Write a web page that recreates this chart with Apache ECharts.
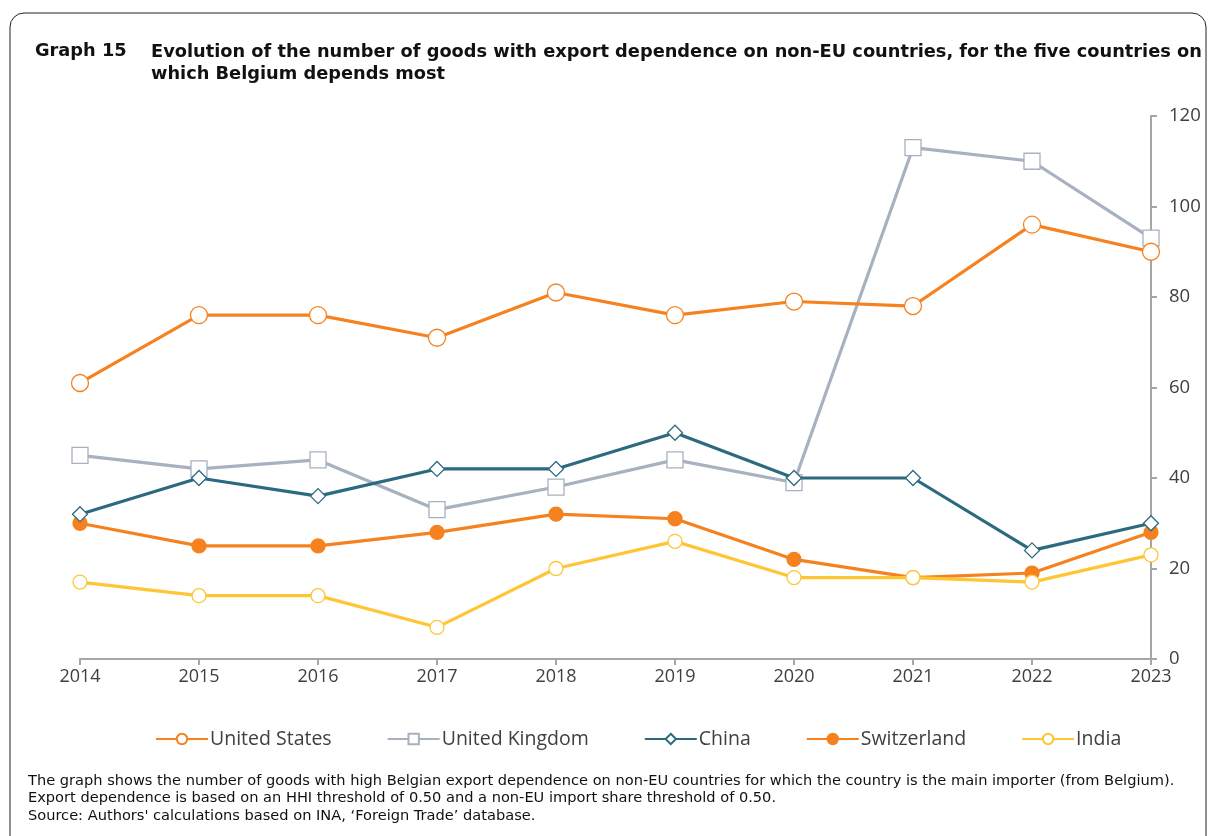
<!DOCTYPE html>
<html>
<head>
<meta charset="utf-8">
<script src="https://cdn.jsdelivr.net/npm/echarts@6/dist/echarts.min.js"></script>
<style>
  html, body { margin: 0; padding: 0; background: #ffffff; }
  #chart { width: 1211px; height: 836px; }
</style>
</head>
<body>
<div id="chart"></div>
<script>
// Years on the horizontal axis
const years = ['2014', '2015', '2016', '2017', '2018', '2019', '2020', '2021', '2022', '2023'];

// Number of goods with export dependence, per partner country
const unitedStates   = [61, 76, 76, 71, 81, 76, 79, 78, 96, 90];
const unitedKingdom  = [45, 42, 44, 33, 38, 44, 39, 113, 110, 93];
const china          = [32, 40, 36, 42, 42, 50, 40, 40, 24, 30];
const switzerland    = [30, 25, 25, 28, 32, 31, 22, 18, 19, 28];
const india          = [17, 14, 14, 7, 20, 26, 18, 18, 17, 23];

// Value axis ticks
const yTicks = [0, 20, 40, 60, 80, 100, 120];

const titleLines = [
  'Evolution of the number of goods with export dependence on non-EU countries, for the five countries on',
  'which Belgium depends most'
];
const noteLines = [
  'The graph shows the number of goods with high Belgian export dependence on non-EU countries for which the country is the main importer (from Belgium).',
  'Export dependence is based on an HHI threshold of 0.50 and a non-EU import share threshold of 0.50.',
  'Source: Authors\' calculations based on INA, \u2018Foreign Trade\u2019 database.'
];

const ORANGE = '#f5821f';
const GREY = '#a7b1bf';
const TEAL = '#2c6a7f';
const YELLOW = '#fec634';
const TEXT = '#404040';
const AXIS = '#a6a6a6';

function lineSeries(name, data, color, symbol, size, filled, z) {
  return {
    name: name,
    type: 'line',
    data: data,
    symbol: symbol,
    symbolSize: size,
    showAllSymbol: true,
    z: z,
    lineStyle: { color: color, width: 3.2 },
    itemStyle: { color: filled ? color : '#ffffff', borderColor: color, borderWidth: 1.3 },
    emphasis: { disabled: true },
    animation: false
  };
}

const chart = echarts.init(document.getElementById('chart'), null, { renderer: 'canvas' });

chart.setOption({
  backgroundColor: '#ffffff',
  animation: false,
  grid: { left: 80, right: 60, top: 116, bottom: 177, containLabel: false },
  xAxis: {
    type: 'category',
    data: years,
    boundaryGap: false,
    axisLine: { lineStyle: { color: AXIS, width: 2 } },
    axisTick: { show: true, alignWithLabel: true, length: 6, lineStyle: { color: AXIS, width: 2 } },
    axisLabel: { color: TEXT, fontSize: 18, fontFamily: 'Open Sans', margin: 9, interval: 0 },
    splitLine: { show: false }
  },
  yAxis: {
    type: 'value',
    position: 'right',
    min: yTicks[0],
    max: yTicks[yTicks.length - 1],
    interval: 20,
    axisLine: { show: true, lineStyle: { color: AXIS, width: 2 } },
    axisTick: { show: true, inside: false, length: 6, lineStyle: { color: AXIS, width: 2 } },
    axisLabel: { color: TEXT, fontSize: 18.5, fontFamily: 'Open Sans', margin: 18 },
    splitLine: { show: false }
  },
  legend: {
    bottom: 82,
    left: 150,
    itemGap: 55,
    itemWidth: 52,
    itemHeight: 13,
    textStyle: { color: TEXT, fontSize: 19.5, fontFamily: 'Open Sans', padding: [0, 0, 0, -3] },
    data: ['United States', 'United Kingdom', 'China', 'Switzerland', 'India']
  },
  series: [
    lineSeries('United States', unitedStates, ORANGE, 'circle', 17, false, 6),
    lineSeries('United Kingdom', unitedKingdom, GREY, 'rect', 16, false, 2),
    lineSeries('China', china, TEAL, 'diamond', 15, false, 4),
    lineSeries('Switzerland', switzerland, ORANGE, 'circle', 14, true, 3),
    lineSeries('India', india, YELLOW, 'circle', 14, false, 5)
  ],
  graphic: [
    {
      type: 'rect',
      silent: true,
      z: -1,
      shape: { x: 10, y: 13, width: 1196, height: 850, r: 14 },
      style: { fill: 'none', stroke: '#222222', lineWidth: 1 }
    },
    {
      type: 'text',
      left: 35, top: 42,
      style: { text: 'Graph 15', fill: '#111111', font: 'bold 17.8px "DejaVu Sans"' }
    },
    {
      type: 'text',
      left: 151, top: 42,
      style: { text: titleLines.join('\n'), fill: '#111111', font: 'bold 17.8px "DejaVu Sans"', lineHeight: 21.5 }
    },
    {
      type: 'text',
      left: 28, top: 772,
      style: { text: noteLines.join('\n'), fill: '#111111', font: '14.6px "DejaVu Sans"', lineHeight: 17.5 }
    }
  ]
});
</script>
</body>
</html>
